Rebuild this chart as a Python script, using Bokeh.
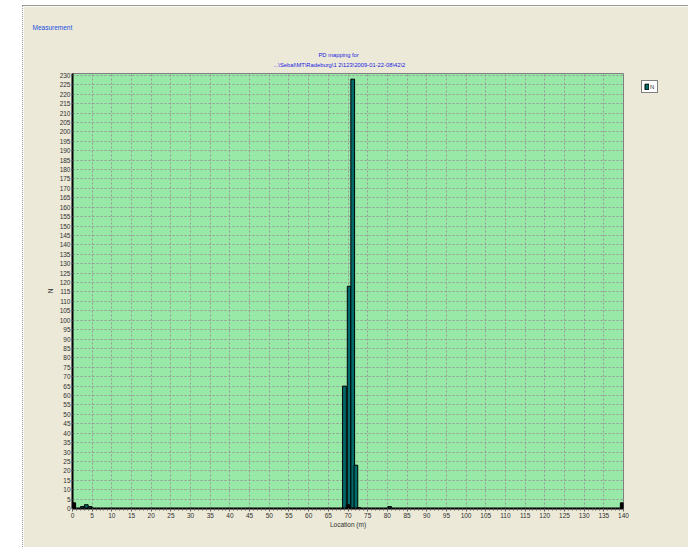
from bokeh.plotting import figure
from bokeh.models import (Range1d, FixedTicker, Legend, LegendItem, Title)
from bokeh.embed import file_html
from bokeh.resources import INLINE

# ---- data ----
n_locations = [2.5, 3.5, 4.5, 69.1, 70.3, 71.2, 72.0, 80.6]
n_counts = [1, 2, 1, 65, 118, 228, 23, 1]
other_locations = [0.4, 70.0, 72.8, 139.6]
other_counts = [3, 2, 0.5, 3]
x_ticks = list(range(0, 141, 5))
y_ticks = list(range(0, 231, 5))
title_line1 = "PD mapping for"
title_line2 = "...\\Sebal\\MT\\Radeburg\\1 2\\123\\2009-01-22-08\\42\\2"
group_label = "Measurement"

BEIGE = "#ECE9D8"
GREEN = "#98E8A8"
TEAL = "#006B6B"
FONT = "Liberation Sans"

p = figure(frame_width=551, frame_height=435, min_border_left=49,
           min_border_top=67, min_border_right=60, min_border_bottom=39,
           x_range=Range1d(0, 140), y_range=Range1d(0, 231),
           output_backend="svg", toolbar_location=None)
p.styles = {"margin-left": "22px", "margin-top": "5px",
            "border-left": "1px dotted #9a9a9a",
            "border-top": "1px solid #9a9a9a",
            "border-right": "1px solid #b0b0b0"}
p.background_fill_color = GREEN
p.border_fill_color = BEIGE
p.outline_line_color = "#808080"
p.outline_line_width = 1

# grid
for g in (p.xgrid, p.ygrid):
    g.grid_line_color = "#999999"
    g.grid_line_dash = "2 2"
    g.grid_line_width = 1
p.xgrid.ticker = FixedTicker(ticks=x_ticks)
p.ygrid.ticker = FixedTicker(ticks=y_ticks)

# axes
p.xaxis.ticker = FixedTicker(ticks=x_ticks, minor_ticks=list(range(0, 141)))
p.yaxis.ticker = FixedTicker(ticks=y_ticks)
for ax in (p.xaxis, p.yaxis):
    ax.axis_line_color = "black"
    ax.axis_line_width = 2
    ax.major_tick_line_color = "#606060"
    ax.minor_tick_line_color = "#606060"
    ax.major_label_text_font = FONT
    ax.major_label_text_font_size = "6.5px"
    ax.major_label_text_color = "#303030"
    ax.axis_label_text_font = FONT
    ax.axis_label_text_font_size = "6.5px"
    ax.axis_label_text_font_style = "normal"
    ax.axis_label_text_color = "#303030"
p.xaxis.major_tick_out = 3
p.xaxis.major_tick_in = 0
p.xaxis.minor_tick_out = 2
p.xaxis.minor_tick_in = 0
p.xaxis.major_label_standoff = 1
p.xaxis.axis_label = "Location (m)"
p.xaxis.axis_label_standoff = 0
p.yaxis.major_tick_out = 1
p.yaxis.major_tick_in = 0
p.yaxis.minor_tick_out = 0
p.yaxis.minor_tick_in = 0
p.yaxis.major_label_standoff = 1
p.yaxis.axis_label = "N"
p.yaxis.axis_label_standoff = 3

# bars
r_n = p.vbar(x=n_locations, top=n_counts, bottom=0, width=0.95,
             fill_color=TEAL, line_color="black", line_width=1)
p.vbar(x=other_locations, top=other_counts, bottom=0, width=0.8,
       fill_color="black", line_color="black", line_width=1)

# titles (nearest the frame first)
p.add_layout(Title(text=title_line2, align="left", offset=201,
                   vertical_align="top", standoff=8, text_font=FONT,
                   text_font_size="5.8px", text_font_style="normal",
                   text_color="#2020E0"), "above")
p.add_layout(Title(text=title_line1, align="left", offset=246,
                   standoff=0, text_font=FONT, text_font_size="5.8px",
                   text_font_style="normal", text_color="#2020E0"), "above")
p.add_layout(Title(text=group_label, align="left", offset=-40,
                   vertical_align="top", standoff=33, text_font=FONT,
                   text_font_size="6.5px", text_font_style="normal",
                   text_color="#2050E0"), "above")

# legend
legend = Legend(items=[LegendItem(label="N", renderers=[r_n])],
                location=(18, 415), glyph_width=5, glyph_height=7,
                label_text_font=FONT, label_text_font_size="6px",
                label_height=7, label_width=5, label_standoff=1, padding=2,
                margin=0, spacing=0, border_line_color="black",
                border_line_width=1, background_fill_color="white",
                background_fill_alpha=1, label_text_color="#303030")
p.add_layout(legend, "right")

open("out.html", "w").write(file_html(p, INLINE))
